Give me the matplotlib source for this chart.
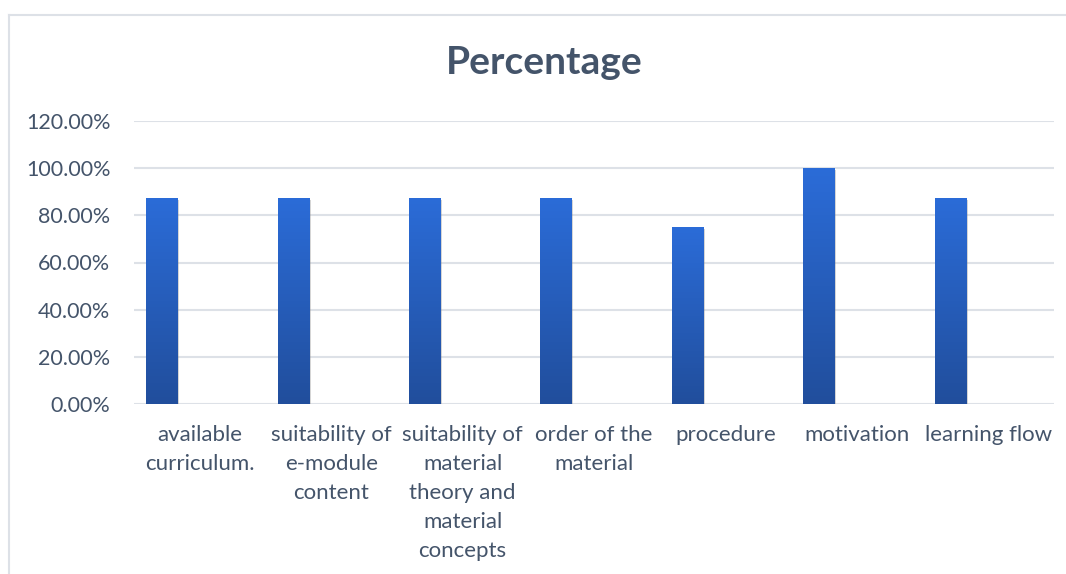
import numpy as np
import matplotlib
matplotlib.use("Agg")
import matplotlib.pyplot as plt
import matplotlib.patheffects as pe
from matplotlib.colors import LinearSegmentedColormap
from matplotlib.lines import Line2D
from matplotlib.transforms import blended_transform_factory

# Data
categories = [
    "available\ncurriculum.",
    "suitability of\ne-module\ncontent",
    "suitability of\nmaterial\ntheory and\nmaterial\nconcepts",
    "order of the\nmaterial",
    "procedure",
    "motivation",
    "learning flow",
]
percentages = [87.5, 87.5, 87.5, 87.5, 75.0, 100.0, 87.5]
y_ticks = [0, 20, 40, 60, 80, 100, 120]
title = "Percentage"

TEXT = "#44546A"
GRID = "#DDE1E7"
FONT = ["Lato", "DejaVu Sans"]

fig = plt.figure(figsize=(10.66, 5.74), dpi=100)
fig.patch.set_facecolor("white")

# Chart frame (continues past the right and bottom edges)
fig.add_artist(Line2D([9 / 1066, 1.2], [1 - 15 / 574] * 2, color=GRID, lw=1.5))
fig.add_artist(Line2D([9 / 1066] * 2, [1 - 15 / 574, -0.2], color=GRID, lw=1.5))

ax = fig.add_axes([134 / 1066, 1 - 404 / 574, (1054 - 134) / 1066, (404 - 121) / 574])
ax.set_xlim(-0.5, len(categories) - 0.5)
ax.set_ylim(0, 120)

for s in ax.spines.values():
    s.set_visible(False)
ax.set_yticks(y_ticks)
ax.set_yticklabels([f"{v:.2f}%" for v in y_ticks], color=TEXT, fontsize=15.5, family=FONT)
ax.tick_params(axis="y", length=0, pad=17)
ax.set_xticks([])
ax.yaxis.grid(True, color=GRID, lw=1.5)
ax.set_axisbelow(True)

x = np.arange(len(categories))
offset = -0.29
width = 0.236
bars = ax.bar(x + offset, percentages, width=width, color="#2A62C6", zorder=2,
              path_effects=[pe.SimplePatchShadow(offset=(1.5, -1.5), shadow_rgbFace="#888888", alpha=0.35),
                            pe.Normal()])

cmap = LinearSegmentedColormap.from_list("barfill", ["#214E9C", "#2B6CD8"])
grad = np.linspace(0, 1, 256).reshape(-1, 1)
for b in bars:
    x0, y0 = b.get_x(), b.get_y()
    w, h = b.get_width(), b.get_height()
    im = ax.imshow(grad, cmap=cmap, origin="lower", aspect="auto",
                   extent=(x0, x0 + w, y0, y0 + h), zorder=3)
    im.set_clip_path(b)
ax.set_xlim(-0.5, len(categories) - 0.5)
ax.set_ylim(0, 120)

trans = blended_transform_factory(ax.transData, ax.transAxes)
for xi, lab in zip(x, categories):
    ax.text(xi, -0.074, lab, transform=trans, ha="center", va="top", color=TEXT,
            fontsize=16, family=FONT, linespacing=1.57)

fig.text(544 / 1066, 1 - 62 / 574, title, ha="center", va="center", color=TEXT,
         fontsize=28, fontweight="bold", family=FONT)

fig.savefig("out.png", dpi=100)
